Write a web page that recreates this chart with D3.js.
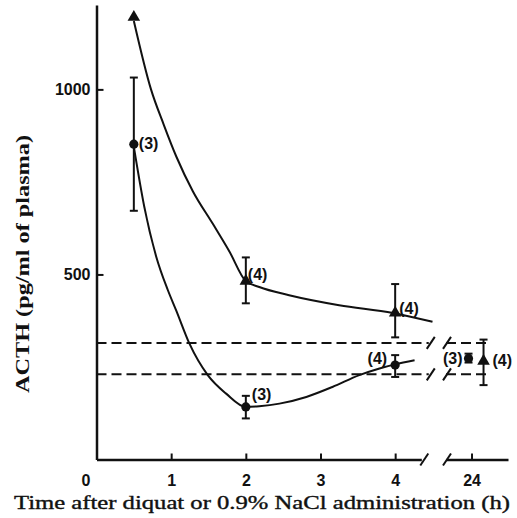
<!DOCTYPE html>
<html>
<head>
<meta charset="utf-8">
<script src="https://cdn.jsdelivr.net/npm/d3@7"></script>
<style>
  html, body { margin: 0; padding: 0; background: #fff; }
  svg { display: block; }
</style>
</head>
<body>
<script>
// ---------- DATA ----------
const times = [0.5, 2, 4, 24];
// triangle series
const triMean = [1195, 482, 396, 266];
const triLow  = [null, 422, 330, 201];
const triHigh = [null, 546, 474, 324];
const triN    = [null, 4, 4, 4];
// circle series
const circMean = [852, 142, 255, 273];
const circLow  = [672, 111, 223, 262];
const circHigh = [1032, 172, 282, 286];
const circN    = [3, 3, 4, 3];
// hand-fitted curves as drawn in the figure
const triCurveT = [0.5, 0.73, 0.9, 1.07, 1.29, 1.56, 1.78, 2.0, 2.18, 2.58, 3.25, 3.97, 4.5];
const triCurveV = [1185, 1000, 905, 818, 725, 636, 562, 482, 466, 444, 417, 396, 372];
const circCurveT = [0.5, 0.64, 0.8, 0.955, 1.067, 1.245, 1.49, 1.736, 2.0, 2.18, 2.45, 2.81, 3.16, 3.52, 3.79, 4.0, 4.26];
const circCurveV = [845, 683, 548, 458, 403, 313, 228, 178, 142, 144, 151, 169, 196, 228, 246, 257, 268];
// reference (control) range, dashed lines
const refLevels = [315, 230];
// axis ticks
const xTicksMain = [0, 1, 2, 3, 4];
const xTicksLate = [24];
const yTicks = [500, 1000];

// ---------- LAYOUT / STYLE ----------
const W = 517, H = 518;
const svg = d3.select("body").append("svg").attr("width", W).attr("height", H);

const y = d3.scaleLinear().domain([0, 1228]).range([459.5, 5]);
const xMain = d3.scaleLinear().domain([0, 4.35]).range([96.5, 421.3]);
const xLate = d3.scaleLinear().domain([23.65, 24.5]).range([446, 508]);
const xPos = t => (t >= 20 ? xLate(t) : xMain(t));
// small horizontal separation of the two 24 h points in the figure
const lateShift = { circ: -3, tri: 12 };
// label placement [dx, dy, anchor]
const triLabelPos  = [null, [2, -5, "start"], [4, -3, "start"], [9, 1, "start"]];
const circLabelPos = [[5, 1, "start"], [6, -11, "start"], [-8, -5, "end"], [-6, 1, "end"]];

const ink = "#111";
const numFont = "'Liberation Sans', Arial, sans-serif";
const serif = "'Liberation Serif', 'Times New Roman', serif";

// ---------- AXES ----------
const yAxis = d3.axisLeft(y).tickValues(yTicks).tickSizeInner(-7).tickSizeOuter(0).tickPadding(6).tickFormat(d3.format("d"));
const gy = svg.append("g").attr("transform", `translate(${xMain(0)},0)`).call(yAxis);

const xAxisMain = d3.axisBottom(xMain).tickValues(xTicksMain).tickSizeInner(-6).tickSizeOuter(0).tickPadding(15).tickFormat(d3.format("d"));
const gx1 = svg.append("g").attr("transform", `translate(0,${y(0)})`).call(xAxisMain);
gx1.selectAll(".tick").filter(d => d === 0).select("text").attr("dx", -11);

const xAxisLate = d3.axisBottom(xLate).tickValues(xTicksLate).tickSizeInner(-6).tickSizeOuter(0).tickPadding(15).tickFormat(d3.format("d"));
const gx2 = svg.append("g").attr("transform", `translate(0,${y(0)})`).call(xAxisLate);

[gy, gx1, gx2].forEach(g => {
  g.select(".domain").attr("stroke", ink).attr("stroke-width", 2.5);
  g.selectAll(".tick line").attr("stroke", ink).attr("stroke-width", 2);
  g.selectAll(".tick text").attr("fill", ink).style("font-family", numFont)
    .style("font-weight", "bold").style("font-size", "16px");
});

// axis break slashes
const slash = (cx, cy) => svg.append("line")
  .attr("x1", cx - 4).attr("y1", cy + 6).attr("x2", cx + 4).attr("y2", cy - 6)
  .attr("stroke", ink).attr("stroke-width", 2);
slash(xMain(4.35) + 3, y(0));
slash(xLate(23.65) + 1, y(0));

// ---------- REFERENCE DASHED LINES ----------
refLevels.forEach(v => {
  svg.append("line").attr("x1", xMain(0)).attr("x2", xMain(4.45))
    .attr("y1", y(v)).attr("y2", y(v))
    .attr("stroke", ink).attr("stroke-width", 2).attr("stroke-dasharray", "10,5");
  svg.append("line").attr("x1", xLate(23.65)).attr("x2", xLate(24.26))
    .attr("y1", y(v)).attr("y2", y(v))
    .attr("stroke", ink).attr("stroke-width", 2).attr("stroke-dasharray", "10,5");
  slash(xMain(4.45) + 2, y(v));
  slash(xLate(23.65) + 1, y(v));
});

// ---------- CURVES ----------
const line = d3.line().x(d => xMain(d[0])).y(d => y(d[1])).curve(d3.curveMonotoneX);
svg.append("path").datum(d3.zip(triCurveT, triCurveV)).attr("d", line)
  .attr("fill", "none").attr("stroke", ink).attr("stroke-width", 2);
svg.append("path").datum(d3.zip(circCurveT, circCurveV)).attr("d", line)
  .attr("fill", "none").attr("stroke", ink).attr("stroke-width", 2);

// ---------- POINTS / ERROR BARS / LABELS ----------
function drawSeries(mean, low, high, n, shape, shiftKey, labelPos) {
  const g = svg.append("g");
  times.forEach((t, i) => {
    const cx = xPos(t) + (t >= 20 ? lateShift[shiftKey] : 0);
    const cy = y(mean[i]);
    if (low[i] != null && high[i] != null) {
      g.append("line").attr("x1", cx).attr("x2", cx).attr("y1", y(high[i])).attr("y2", y(low[i]))
        .attr("stroke", ink).attr("stroke-width", 2);
      [high[i], low[i]].forEach(v => g.append("line")
        .attr("x1", cx - 4).attr("x2", cx + 4).attr("y1", y(v)).attr("y2", y(v))
        .attr("stroke", ink).attr("stroke-width", 2));
    }
    if (shape === "circle") {
      g.append("circle").attr("cx", cx).attr("cy", cy).attr("r", 4.6).attr("fill", ink);
    } else {
      g.append("path").attr("d", d3.symbol(d3.symbolTriangle, 68)())
        .attr("transform", `translate(${cx},${cy})`).attr("fill", ink);
    }
    if (n[i] != null && labelPos[i]) {
      const [dx, dy, anchor] = labelPos[i];
      g.append("text").attr("x", cx + dx).attr("y", cy + dy).attr("text-anchor", anchor)
        .attr("dominant-baseline", "middle")
        .style("font-family", numFont).style("font-weight", "bold").style("font-size", "16px")
        .attr("fill", ink).text(`(${n[i]})`);
    }
  });
}
drawSeries(triMean, triLow, triHigh, triN, "triangle", "tri", triLabelPos);
drawSeries(circMean, circLow, circHigh, circN, "circle", "circ", circLabelPos);

// ---------- TITLES ----------
svg.append("text")
  .attr("transform", "translate(29,264) rotate(-90)")
  .attr("text-anchor", "middle")
  .attr("textLength", 258).attr("lengthAdjust", "spacingAndGlyphs")
  .style("font-family", serif).style("font-weight", "bold").style("font-size", "19px")
  .attr("fill", ink).text("ACTH (pg/ml of plasma)");

svg.append("text")
  .attr("x", 262).attr("y", 509)
  .attr("text-anchor", "middle")
  .attr("textLength", 496).attr("lengthAdjust", "spacingAndGlyphs")
  .style("font-family", serif).style("font-size", "19.5px")
  .attr("stroke", ink).attr("stroke-width", 0.4)
  .attr("fill", ink).text("Time after diquat or 0.9% NaCl administration (h)");
</script>
</body>
</html>
